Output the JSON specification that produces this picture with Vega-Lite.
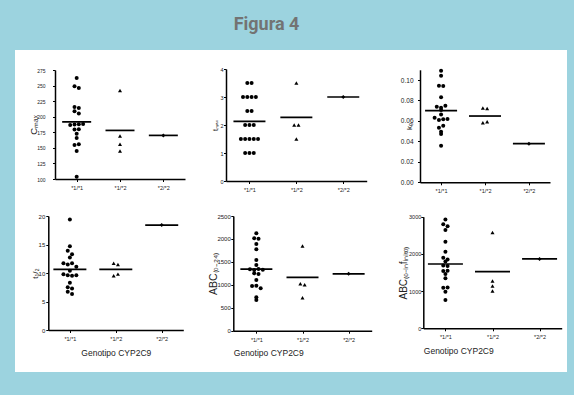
{
  "$schema": "https://vega.github.io/schema/vega-lite/v6.json",
  "width": 552,
  "height": 322,
  "autosize": {"type": "none"},
  "padding": {"left": 15, "top": 50, "right": 7, "bottom": 23},
  "background": "#9cd3df",
  "title": {"text": "Figura 4", "anchor": "middle", "frame": "group", "dx": -24.5, "offset": 2, "fontSize": 18, "font": "Roboto", "fontWeight": "bold", "color": "#737373", "baseline": "alphabetic"},
  "config": {
    "view": {"fill": "white", "stroke": null},
    "axis": {"domainColor": "#000", "domainWidth": 1.5, "tickColor": "#000", "tickWidth": 1, "tickSize": 2.5, "labelColor": "#222", "titleColor": "#222", "labelFont": "Liberation Sans", "titleFont": "Liberation Sans", "titleFontWeight": "normal", "grid": false, "labelOverlap": false, "labelFlush": false, "labelBound": false}
  },
  "datasets": {
    "points": [
      {"p": "cmax", "g": "*1/*1", "v": 262}, {"p": "cmax", "g": "*1/*1", "v": 249}, {"p": "cmax", "g": "*1/*1", "v": 246}, {"p": "cmax", "g": "*1/*1", "v": 215.6}, {"p": "cmax", "g": "*1/*1", "v": 214}, {"p": "cmax", "g": "*1/*1", "v": 208.7}, {"p": "cmax", "g": "*1/*1", "v": 205}, {"p": "cmax", "g": "*1/*1", "v": 186.5}, {"p": "cmax", "g": "*1/*1", "v": 187.5}, {"p": "cmax", "g": "*1/*1", "v": 188}, {"p": "cmax", "g": "*1/*1", "v": 188.5}, {"p": "cmax", "g": "*1/*1", "v": 179.5}, {"p": "cmax", "g": "*1/*1", "v": 180}, {"p": "cmax", "g": "*1/*1", "v": 172.6}, {"p": "cmax", "g": "*1/*1", "v": 166}, {"p": "cmax", "g": "*1/*1", "v": 154.6}, {"p": "cmax", "g": "*1/*1", "v": 155.7}, {"p": "cmax", "g": "*1/*1", "v": 145}, {"p": "cmax", "g": "*1/*1", "v": 103.7},
      {"p": "cmax", "g": "*1/*2", "v": 242}, {"p": "cmax", "g": "*1/*2", "v": 169}, {"p": "cmax", "g": "*1/*2", "v": 155.7}, {"p": "cmax", "g": "*1/*2", "v": 145},
      {"p": "cmax", "g": "*2/*2", "v": 170},
      {"p": "tmax", "g": "*1/*1", "v": 3.5}, {"p": "tmax", "g": "*1/*1", "v": 3.5}, {"p": "tmax", "g": "*1/*1", "v": 3}, {"p": "tmax", "g": "*1/*1", "v": 3}, {"p": "tmax", "g": "*1/*1", "v": 3}, {"p": "tmax", "g": "*1/*1", "v": 3}, {"p": "tmax", "g": "*1/*1", "v": 2.5}, {"p": "tmax", "g": "*1/*1", "v": 2.5}, {"p": "tmax", "g": "*1/*1", "v": 2}, {"p": "tmax", "g": "*1/*1", "v": 2}, {"p": "tmax", "g": "*1/*1", "v": 2}, {"p": "tmax", "g": "*1/*1", "v": 1.5}, {"p": "tmax", "g": "*1/*1", "v": 1.5}, {"p": "tmax", "g": "*1/*1", "v": 1.5}, {"p": "tmax", "g": "*1/*1", "v": 1.5}, {"p": "tmax", "g": "*1/*1", "v": 1.5}, {"p": "tmax", "g": "*1/*1", "v": 1}, {"p": "tmax", "g": "*1/*1", "v": 1}, {"p": "tmax", "g": "*1/*1", "v": 1},
      {"p": "tmax", "g": "*1/*2", "v": 3.5}, {"p": "tmax", "g": "*1/*2", "v": 2}, {"p": "tmax", "g": "*1/*2", "v": 2}, {"p": "tmax", "g": "*1/*2", "v": 1.5},
      {"p": "tmax", "g": "*2/*2", "v": 3},
      {"p": "ke", "g": "*1/*1", "v": 0.1091}, {"p": "ke", "g": "*1/*1", "v": 0.1042}, {"p": "ke", "g": "*1/*1", "v": 0.0945}, {"p": "ke", "g": "*1/*1", "v": 0.0941}, {"p": "ke", "g": "*1/*1", "v": 0.0831}, {"p": "ke", "g": "*1/*1", "v": 0.0739}, {"p": "ke", "g": "*1/*1", "v": 0.0730}, {"p": "ke", "g": "*1/*1", "v": 0.0749}, {"p": "ke", "g": "*1/*1", "v": 0.0707}, {"p": "ke", "g": "*1/*1", "v": 0.0664}, {"p": "ke", "g": "*1/*1", "v": 0.0632}, {"p": "ke", "g": "*1/*1", "v": 0.0609}, {"p": "ke", "g": "*1/*1", "v": 0.0616}, {"p": "ke", "g": "*1/*1", "v": 0.0619}, {"p": "ke", "g": "*1/*1", "v": 0.0534}, {"p": "ke", "g": "*1/*1", "v": 0.0554}, {"p": "ke", "g": "*1/*1", "v": 0.0495}, {"p": "ke", "g": "*1/*1", "v": 0.0472}, {"p": "ke", "g": "*1/*1", "v": 0.0358},
      {"p": "ke", "g": "*1/*2", "v": 0.0726}, {"p": "ke", "g": "*1/*2", "v": 0.0721}, {"p": "ke", "g": "*1/*2", "v": 0.0583}, {"p": "ke", "g": "*1/*2", "v": 0.0593},
      {"p": "ke", "g": "*2/*2", "v": 0.0378},
      {"p": "t12", "g": "*1/*1", "v": 19.4}, {"p": "t12", "g": "*1/*1", "v": 14.7}, {"p": "t12", "g": "*1/*1", "v": 13.9}, {"p": "t12", "g": "*1/*1", "v": 13.3}, {"p": "t12", "g": "*1/*1", "v": 12.7}, {"p": "t12", "g": "*1/*1", "v": 11.7}, {"p": "t12", "g": "*1/*1", "v": 11.5}, {"p": "t12", "g": "*1/*1", "v": 11.7}, {"p": "t12", "g": "*1/*1", "v": 11.1}, {"p": "t12", "g": "*1/*1", "v": 10.4}, {"p": "t12", "g": "*1/*1", "v": 9.8}, {"p": "t12", "g": "*1/*1", "v": 9.6}, {"p": "t12", "g": "*1/*1", "v": 9.5}, {"p": "t12", "g": "*1/*1", "v": 9.6}, {"p": "t12", "g": "*1/*1", "v": 8.3}, {"p": "t12", "g": "*1/*1", "v": 7.5}, {"p": "t12", "g": "*1/*1", "v": 7.3}, {"p": "t12", "g": "*1/*1", "v": 6.7}, {"p": "t12", "g": "*1/*1", "v": 6.3},
      {"p": "t12", "g": "*1/*2", "v": 11.7}, {"p": "t12", "g": "*1/*2", "v": 11.5}, {"p": "t12", "g": "*1/*2", "v": 9.5}, {"p": "t12", "g": "*1/*2", "v": 9.8},
      {"p": "t12", "g": "*2/*2", "v": 18.4},
      {"p": "auc24", "g": "*1/*1", "v": 2122}, {"p": "auc24", "g": "*1/*1", "v": 2015}, {"p": "auc24", "g": "*1/*1", "v": 2003}, {"p": "auc24", "g": "*1/*1", "v": 1890}, {"p": "auc24", "g": "*1/*1", "v": 1773}, {"p": "auc24", "g": "*1/*1", "v": 1541}, {"p": "auc24", "g": "*1/*1", "v": 1432}, {"p": "auc24", "g": "*1/*1", "v": 1337}, {"p": "auc24", "g": "*1/*1", "v": 1323}, {"p": "auc24", "g": "*1/*1", "v": 1345}, {"p": "auc24", "g": "*1/*1", "v": 1330}, {"p": "auc24", "g": "*1/*1", "v": 1250}, {"p": "auc24", "g": "*1/*1", "v": 1235}, {"p": "auc24", "g": "*1/*1", "v": 1105}, {"p": "auc24", "g": "*1/*1", "v": 974}, {"p": "auc24", "g": "*1/*1", "v": 981}, {"p": "auc24", "g": "*1/*1", "v": 923}, {"p": "auc24", "g": "*1/*1", "v": 727}, {"p": "auc24", "g": "*1/*1", "v": 669},
      {"p": "auc24", "g": "*1/*2", "v": 1846}, {"p": "auc24", "g": "*1/*2", "v": 1025}, {"p": "auc24", "g": "*1/*2", "v": 1003}, {"p": "auc24", "g": "*1/*2", "v": 720},
      {"p": "auc24", "g": "*2/*2", "v": 1240},
      {"p": "aucinf", "g": "*1/*1", "v": 2928}, {"p": "aucinf", "g": "*1/*1", "v": 2795}, {"p": "aucinf", "g": "*1/*1", "v": 2745}, {"p": "aucinf", "g": "*1/*1", "v": 2641}, {"p": "aucinf", "g": "*1/*1", "v": 2328}, {"p": "aucinf", "g": "*1/*1", "v": 2059}, {"p": "aucinf", "g": "*1/*1", "v": 1895}, {"p": "aucinf", "g": "*1/*1", "v": 1850}, {"p": "aucinf", "g": "*1/*1", "v": 1795}, {"p": "aucinf", "g": "*1/*1", "v": 1690}, {"p": "aucinf", "g": "*1/*1", "v": 1674}, {"p": "aucinf", "g": "*1/*1", "v": 1540}, {"p": "aucinf", "g": "*1/*1", "v": 1549}, {"p": "aucinf", "g": "*1/*1", "v": 1459}, {"p": "aucinf", "g": "*1/*1", "v": 1343}, {"p": "aucinf", "g": "*1/*1", "v": 1092}, {"p": "aucinf", "g": "*1/*1", "v": 1099}, {"p": "aucinf", "g": "*1/*1", "v": 984}, {"p": "aucinf", "g": "*1/*1", "v": 761},
      {"p": "aucinf", "g": "*1/*2", "v": 2578}, {"p": "aucinf", "g": "*1/*2", "v": 1271}, {"p": "aucinf", "g": "*1/*2", "v": 1137}, {"p": "aucinf", "g": "*1/*2", "v": 1003},
      {"p": "aucinf", "g": "*2/*2", "v": 1865}
    ],
    "means": [
      {"p": "cmax", "g": "*1/*1", "v": 191.7}, {"p": "cmax", "g": "*1/*2", "v": 178}, {"p": "cmax", "g": "*2/*2", "v": 170},
      {"p": "tmax", "g": "*1/*1", "v": 2.13}, {"p": "tmax", "g": "*1/*2", "v": 2.27}, {"p": "tmax", "g": "*2/*2", "v": 3},
      {"p": "ke", "g": "*1/*1", "v": 0.070}, {"p": "ke", "g": "*1/*2", "v": 0.0648}, {"p": "ke", "g": "*2/*2", "v": 0.0378},
      {"p": "t12", "g": "*1/*1", "v": 10.64}, {"p": "t12", "g": "*1/*2", "v": 10.64}, {"p": "t12", "g": "*2/*2", "v": 18.4},
      {"p": "auc24", "g": "*1/*1", "v": 1344}, {"p": "auc24", "g": "*1/*2", "v": 1163}, {"p": "auc24", "g": "*2/*2", "v": 1240},
      {"p": "aucinf", "g": "*1/*1", "v": 1728}, {"p": "aucinf", "g": "*1/*2", "v": 1522}, {"p": "aucinf", "g": "*2/*2", "v": 1865}
    ]
  },
  "data": {"name": "points"},
  "transform": [
    {"calculate": "floor(datum.v / (datum.p === 'cmax' ? 7 : datum.p === 'tmax' ? 0.25 : datum.p === 'ke' ? 0.004 : datum.p === 't12' ? 1 : 100))", "as": "bin"},
    {"window": [{"op": "row_number", "as": "rn"}, {"op": "count", "as": "cnt"}], "groupby": ["p", "g", "bin"], "frame": [null, null]},
    {"calculate": "datum.rn - (datum.cnt + 1) / 2", "as": "off"}
  ],
  "resolve": {"scale": {"x": "independent", "y": "independent"}, "axis": {"x": "independent", "y": "independent"}},
  "layer": [
    {"transform": [{"filter": "datum.p === 'cmax'"}],
     "mark": {"type": "point", "filled": true, "color": "#000", "opacity": 1, "size": 16},
     "encoding": {
       "x": {"field": "g", "type": "nominal", "scale": {"type": "point", "domain": ["*1/*1", "*1/*2", "*2/*2"], "range": [40, 170], "padding": 0.5}, "axis": {"orient": "bottom", "offset": -193, "title": null, "labelFontSize": 5.5, "labelPadding": 4, "labelAngle": 0}},
       "y": {"field": "v", "type": "quantitative", "scale": {"domain": [100, 275], "range": [129, 20], "nice": false, "zero": false}, "axis": {"orient": "left", "offset": -40, "title": "Cₘₐₓ", "values": [100, 125, 150, 175, 200, 225, 250, 275], "labelFontSize": 5, "labelPadding": 7.5, "titleFontSize": 9.5, "titlePadding": -2}},
       "xOffset": {"field": "off", "type": "quantitative", "scale": {"domain": [-2, 2], "range": [-8.6, 8.6]}},
       "shape": {"field": "g", "type": "nominal", "scale": {"domain": ["*1/*1", "*1/*2", "*2/*2"], "range": ["circle", "triangle-up", "diamond"]}, "legend": null}
     }},
    {"data": {"name": "means"}, "transform": [{"filter": "datum.p === 'cmax'"}],
     "mark": {"type": "tick", "orient": "horizontal", "color": "#000", "size": 29, "thickness": 1.7, "opacity": 1},
     "encoding": {
       "x": {"field": "g", "type": "nominal", "scale": {"type": "point", "domain": ["*1/*1", "*1/*2", "*2/*2"], "range": [40, 170], "padding": 0.5}, "axis": null},
       "y": {"field": "v", "type": "quantitative", "scale": {"domain": [100, 275], "range": [129, 20], "nice": false, "zero": false}, "axis": null}
     }},
    {"transform": [{"filter": "datum.p === 'tmax'"}],
     "mark": {"type": "point", "filled": true, "color": "#000", "opacity": 1, "size": 16},
     "encoding": {
       "x": {"field": "g", "type": "nominal", "scale": {"type": "point", "domain": ["*1/*1", "*1/*2", "*2/*2"], "range": [211, 351.7], "padding": 0.5}, "axis": {"orient": "bottom", "offset": -191, "title": null, "labelFontSize": 5.5, "labelPadding": 4, "labelAngle": 0}},
       "y": {"field": "v", "type": "quantitative", "scale": {"domain": [0, 4], "range": [131, 19], "nice": false, "zero": false}, "axis": {"orient": "left", "offset": -211, "title": "tₘₐₓ", "values": [0, 1, 2, 3, 4], "labelFontSize": 5.5, "labelPadding": 0.5, "titleFontSize": 7, "titlePadding": 1}},
       "xOffset": {"field": "off", "type": "quantitative", "scale": {"domain": [-2, 2], "range": [-8.6, 8.6]}},
       "shape": {"field": "g", "type": "nominal", "scale": {"domain": ["*1/*1", "*1/*2", "*2/*2"], "range": ["circle", "triangle-up", "diamond"]}, "legend": null}
     }},
    {"data": {"name": "means"}, "transform": [{"filter": "datum.p === 'tmax'"}],
     "mark": {"type": "tick", "orient": "horizontal", "color": "#000", "size": 32, "thickness": 1.7, "opacity": 1},
     "encoding": {
       "x": {"field": "g", "type": "nominal", "scale": {"type": "point", "domain": ["*1/*1", "*1/*2", "*2/*2"], "range": [211, 351.7], "padding": 0.5}, "axis": null},
       "y": {"field": "v", "type": "quantitative", "scale": {"domain": [0, 4], "range": [131, 19], "nice": false, "zero": false}, "axis": null}
     }},
    {"transform": [{"filter": "datum.p === 'ke'"}],
     "mark": {"type": "point", "filled": true, "color": "#000", "opacity": 1, "size": 16},
     "encoding": {
       "x": {"field": "g", "type": "nominal", "scale": {"type": "point", "domain": ["*1/*1", "*1/*2", "*2/*2"], "range": [405, 535], "padding": 0.48}, "axis": {"orient": "bottom", "offset": -189.7, "title": null, "labelFontSize": 5.5, "labelPadding": 4, "labelAngle": 0}},
       "y": {"field": "v", "type": "quantitative", "scale": {"domain": [0, 0.11], "range": [132.3, 19.8], "nice": false, "zero": false}, "axis": {"orient": "left", "offset": -405, "title": "kₑ", "values": [0, 0.02, 0.04, 0.06, 0.08, 0.1], "format": ".2f", "labelFontSize": 6.5, "labelPadding": 4.5, "titleFontSize": 8, "titlePadding": -13}},
       "xOffset": {"field": "off", "type": "quantitative", "scale": {"domain": [-2, 2], "range": [-8.6, 8.6]}},
       "shape": {"field": "g", "type": "nominal", "scale": {"domain": ["*1/*1", "*1/*2", "*2/*2"], "range": ["circle", "triangle-up", "diamond"]}, "legend": null}
     }},
    {"data": {"name": "means"}, "transform": [{"filter": "datum.p === 'ke'"}],
     "mark": {"type": "tick", "orient": "horizontal", "color": "#000", "size": 32, "thickness": 1.7, "opacity": 1},
     "encoding": {
       "x": {"field": "g", "type": "nominal", "scale": {"type": "point", "domain": ["*1/*1", "*1/*2", "*2/*2"], "range": [405, 535], "padding": 0.48}, "axis": null},
       "y": {"field": "v", "type": "quantitative", "scale": {"domain": [0, 0.11], "range": [132.3, 19.8], "nice": false, "zero": false}, "axis": null}
     }},
    {"transform": [{"filter": "datum.p === 't12'"}],
     "mark": {"type": "point", "filled": true, "color": "#000", "opacity": 1, "size": 16},
     "encoding": {
       "x": {"field": "g", "type": "nominal", "scale": {"type": "point", "domain": ["*1/*1", "*1/*2", "*2/*2"], "range": [33.3, 168.3], "padding": 0.47}, "axis": {"orient": "bottom", "offset": -42, "title": "Genotipo CYP2C9", "titleFontSize": 8.5, "titlePadding": 6, "labelFontSize": 5.5, "labelPadding": 4, "labelAngle": 0}},
       "y": {"field": "v", "type": "quantitative", "scale": {"domain": [0, 20], "range": [280, 166], "nice": false, "zero": false}, "axis": {"orient": "left", "offset": -33.3, "title": "t₁/₂", "values": [0, 5, 10, 15, 20], "labelFontSize": 6, "labelPadding": 1, "titleFontSize": 8, "titlePadding": -1.8}},
       "xOffset": {"field": "off", "type": "quantitative", "scale": {"domain": [-2, 2], "range": [-8.6, 8.6]}},
       "shape": {"field": "g", "type": "nominal", "scale": {"domain": ["*1/*1", "*1/*2", "*2/*2"], "range": ["circle", "triangle-up", "diamond"]}, "legend": null}
     }},
    {"data": {"name": "means"}, "transform": [{"filter": "datum.p === 't12'"}],
     "mark": {"type": "tick", "orient": "horizontal", "color": "#000", "size": 33, "thickness": 1.7, "opacity": 1},
     "encoding": {
       "x": {"field": "g", "type": "nominal", "scale": {"type": "point", "domain": ["*1/*1", "*1/*2", "*2/*2"], "range": [33.3, 168.3], "padding": 0.47}, "axis": null},
       "y": {"field": "v", "type": "quantitative", "scale": {"domain": [0, 20], "range": [280, 166], "nice": false, "zero": false}, "axis": null}
     }},
    {"transform": [{"filter": "datum.p === 'auc24'"}],
     "mark": {"type": "point", "filled": true, "color": "#000", "opacity": 1, "size": 16},
     "encoding": {
       "x": {"field": "g", "type": "nominal", "scale": {"type": "point", "domain": ["*1/*1", "*1/*2", "*2/*2"], "range": [218.3, 356.7], "padding": 0.5}, "axis": {"orient": "bottom", "offset": -41.3, "title": "Genotipo CYP2C9", "titleAnchor": "start", "titleFontSize": 8.5, "titlePadding": 6, "labelFontSize": 5.5, "labelPadding": 4, "labelAngle": 0}},
       "y": {"field": "v", "type": "quantitative", "scale": {"domain": [0, 2500], "range": [280.7, 166], "nice": false, "zero": false}, "axis": {"orient": "left", "offset": -218.3, "title": "ABC₍₀₋₂₄₎", "values": [0, 500, 1000, 1500, 2000, 2500], "format": "d", "labelFontSize": 6, "labelPadding": 0.5, "titleFontSize": 10.5, "titlePadding": -1.8}},
       "xOffset": {"field": "off", "type": "quantitative", "scale": {"domain": [-2, 2], "range": [-8.6, 8.6]}},
       "shape": {"field": "g", "type": "nominal", "scale": {"domain": ["*1/*1", "*1/*2", "*2/*2"], "range": ["circle", "triangle-up", "diamond"]}, "legend": null}
     }},
    {"data": {"name": "means"}, "transform": [{"filter": "datum.p === 'auc24'"}],
     "mark": {"type": "tick", "orient": "horizontal", "color": "#000", "size": 32, "thickness": 1.7, "opacity": 1},
     "encoding": {
       "x": {"field": "g", "type": "nominal", "scale": {"type": "point", "domain": ["*1/*1", "*1/*2", "*2/*2"], "range": [218.3, 356.7], "padding": 0.5}, "axis": null},
       "y": {"field": "v", "type": "quantitative", "scale": {"domain": [0, 2500], "range": [280.7, 166], "nice": false, "zero": false}, "axis": null}
     }},
    {"transform": [{"filter": "datum.p === 'aucinf'"}],
     "mark": {"type": "point", "filled": true, "color": "#000", "opacity": 1, "size": 16},
     "encoding": {
       "x": {"field": "g", "type": "nominal", "scale": {"type": "point", "domain": ["*1/*1", "*1/*2", "*2/*2"], "range": [408.3, 546.7], "padding": 0.47}, "axis": {"orient": "bottom", "offset": -43.7, "title": "Genotipo CYP2C9", "titleAnchor": "start", "titleFontSize": 8.5, "titlePadding": 6, "labelFontSize": 5.5, "labelPadding": 4, "labelAngle": 0}},
       "y": {"field": "v", "type": "quantitative", "scale": {"domain": [0, 3000], "range": [278.3, 166.7], "nice": false, "zero": false}, "axis": {"orient": "left", "offset": -408.3, "title": "ABC₍₀₋ᵢₙfᵢₙᵢₜₒ₎", "values": [0, 1000, 2000, 3000], "format": "d", "labelFontSize": 5.5, "labelPadding": 0, "titleFontSize": 10, "titlePadding": 0}},
       "xOffset": {"field": "off", "type": "quantitative", "scale": {"domain": [-2, 2], "range": [-8.6, 8.6]}},
       "shape": {"field": "g", "type": "nominal", "scale": {"domain": ["*1/*1", "*1/*2", "*2/*2"], "range": ["circle", "triangle-up", "diamond"]}, "legend": null}
     }},
    {"data": {"name": "means"}, "transform": [{"filter": "datum.p === 'aucinf'"}],
     "mark": {"type": "tick", "orient": "horizontal", "color": "#000", "size": 35, "thickness": 1.7, "opacity": 1},
     "encoding": {
       "x": {"field": "g", "type": "nominal", "scale": {"type": "point", "domain": ["*1/*1", "*1/*2", "*2/*2"], "range": [408.3, 546.7], "padding": 0.47}, "axis": null},
       "y": {"field": "v", "type": "quantitative", "scale": {"domain": [0, 3000], "range": [278.3, 166.7], "nice": false, "zero": false}, "axis": null}
     }}
  ]
}
